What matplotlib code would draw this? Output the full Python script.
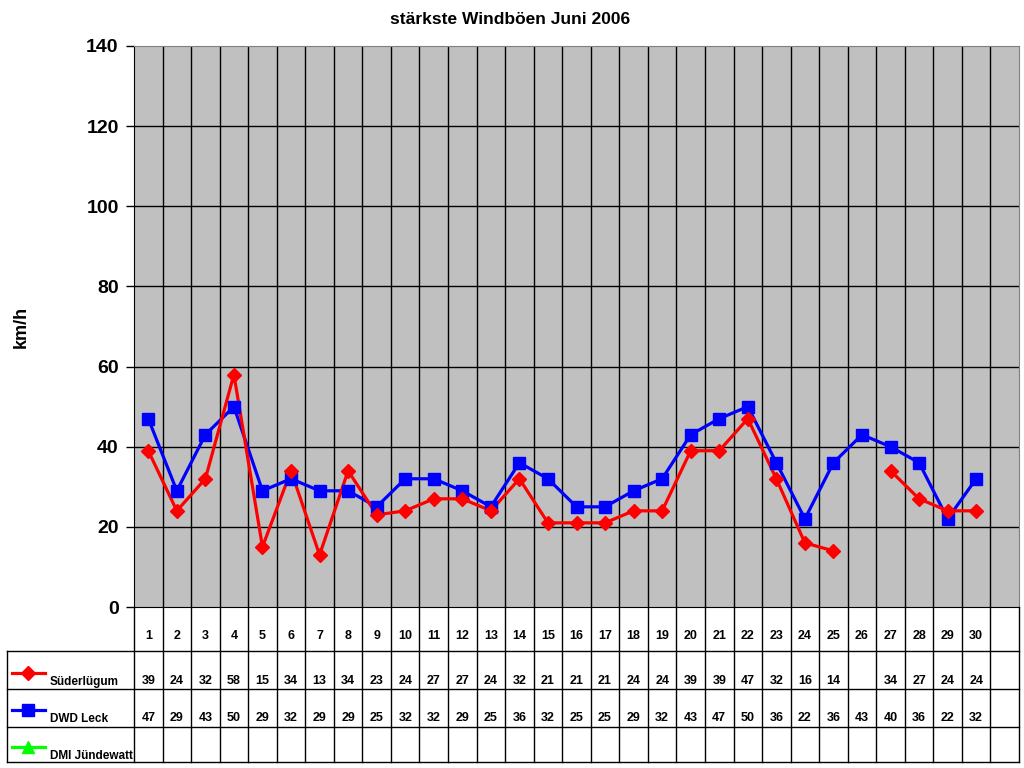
import numpy as np
import matplotlib
matplotlib.use("Agg")
import matplotlib.pyplot as plt

plt.rcParams['font.family'] = ['Liberation Sans', 'DejaVu Sans']
plt.rcParams['font.weight'] = 'bold'

days = list(range(1, 32))
day_labels = [str(d) for d in range(1, 31)] + [""]
suederluegum = [39, 24, 32, 58, 15, 34, 13, 34, 23, 24, 27, 27, 24, 32, 21,
                21, 21, 24, 24, 39, 39, 47, 32, 16, 14, None, 34, 27, 24, 24, None]
dwd_leck = [47, 29, 43, 50, 29, 32, 29, 29, 25, 32, 32, 29, 25, 36, 32,
            25, 25, 29, 32, 43, 47, 50, 36, 22, 36, 43, 40, 36, 22, 32, None]
dmi_juendewatt = [None] * 31
series_names = ["Süderlügum", "DWD Leck", "DMI Jündewatt"]
series_colors = ["#ff0000", "#0000ff", "#00ff00"]
series_markers = ["D", "s", "^"]
yticks = [0, 20, 40, 60, 80, 100, 120, 140]

W, H = 1024, 768
fig = plt.figure(figsize=(W / 100, H / 100), dpi=100)

# plot area
L, R, T, B = 134, 1019, 46, 607
ax = fig.add_axes([L / W, 1 - B / H, (R - L) / W, (B - T) / H])
ax.set_facecolor("#c0c0c0")
ax.set_xlim(0.5, 31.5)
ax.set_ylim(0, 140)
ax.set_yticks(yticks)
ax.set_xticks([])
ax.tick_params(axis="y", direction="out", length=6, width=1, labelsize=14, pad=5)
for lab in ax.get_yticklabels():
    lab.set_fontweight("bold")
for y in yticks[1:-1]:
    ax.axhline(y, color="black", lw=1, zorder=1)
for x in np.arange(1.5, 31.5, 1):
    ax.axvline(x, color="black", lw=1, zorder=1)
ax.spines["left"].set_color("black")
ax.spines["bottom"].set_color("black")
ax.spines["top"].set_color("#808080")
ax.spines["right"].set_color("#808080")

all_series = [suederluegum, dwd_leck, dmi_juendewatt]
for vals, c, z in zip(all_series, series_colors, [3, 2, 2]):
    v = np.array([np.nan if a is None else a for a in vals], dtype=float)
    ax.plot(days, v, color=c, lw=2.3, zorder=z)
v_b = np.array([np.nan if a is None else a for a in dwd_leck], dtype=float)
v_r = np.array([np.nan if a is None else a for a in suederluegum], dtype=float)
ax.plot(days, v_b, ls="none", marker="s", ms=8.5, color="#0000ff", zorder=4)
ax.plot(days, v_r, ls="none", marker="D", ms=6.8, color="#ff0000", zorder=5)

ax.set_ylabel("km/h", fontsize=13, fontweight="bold")
ax.yaxis.set_label_coords((30 - L) / (R - L), 0.5)
fig.text(510 / W, 1 - 20 / H, "stärkste Windböen Juni 2006", ha="center",
         va="center", fontsize=12.5, fontweight="bold")

# data table below the plot
TB = 762
at = fig.add_axes([L / W, 1 - TB / H, (R - L) / W, (TB - B) / H])
at.set_xlim(0.5, 31.5)
at.set_ylim(TB - B, 0)
at.axis("off")
rows = [0, 44, 82, 120, 155]
xleft = 0.5 - (L - 7) / ((R - L) / 31)
for y in rows[1:]:
    at.plot([xleft, 31.5], [y, y], color="black", lw=1, clip_on=False)
at.plot([xleft, xleft], [rows[1], rows[-1]], color="black", lw=1, clip_on=False)
for x in np.arange(0.5, 32, 1):
    at.plot([x, x], [0, rows[-1]], color="black", lw=1, clip_on=False)

for d, lab in zip(days, day_labels):
    at.text(d, 29, lab, ha="center", va="center", fontsize=9, fontweight="bold")
row_y = [74, 111, 148]
for vals, yy in zip(all_series, row_y):
    for d, v in zip(days, vals):
        if v is not None:
            at.text(d, yy, str(v), ha="center", va="center", fontsize=9,
                    fontweight="bold")

key_x0 = xleft + 5 / 28.55
key_x1 = xleft + 38 / 28.55
for name, c, m, yy in zip(series_names, series_colors, series_markers, row_y):
    at.plot([key_x0, key_x1], [yy - 8, yy - 8], color=c, lw=2.3, clip_on=False)
    at.plot([(key_x0 + key_x1) / 2], [yy - 8], marker=m, color=c,
            ms=6.8 if m == "D" else 8.5, clip_on=False)
    at.text(xleft + 43 / 28.55, yy + 1, name, ha="left", va="center",
            fontsize=8.5, fontweight="bold")

fig.savefig("out.png", dpi=100)
